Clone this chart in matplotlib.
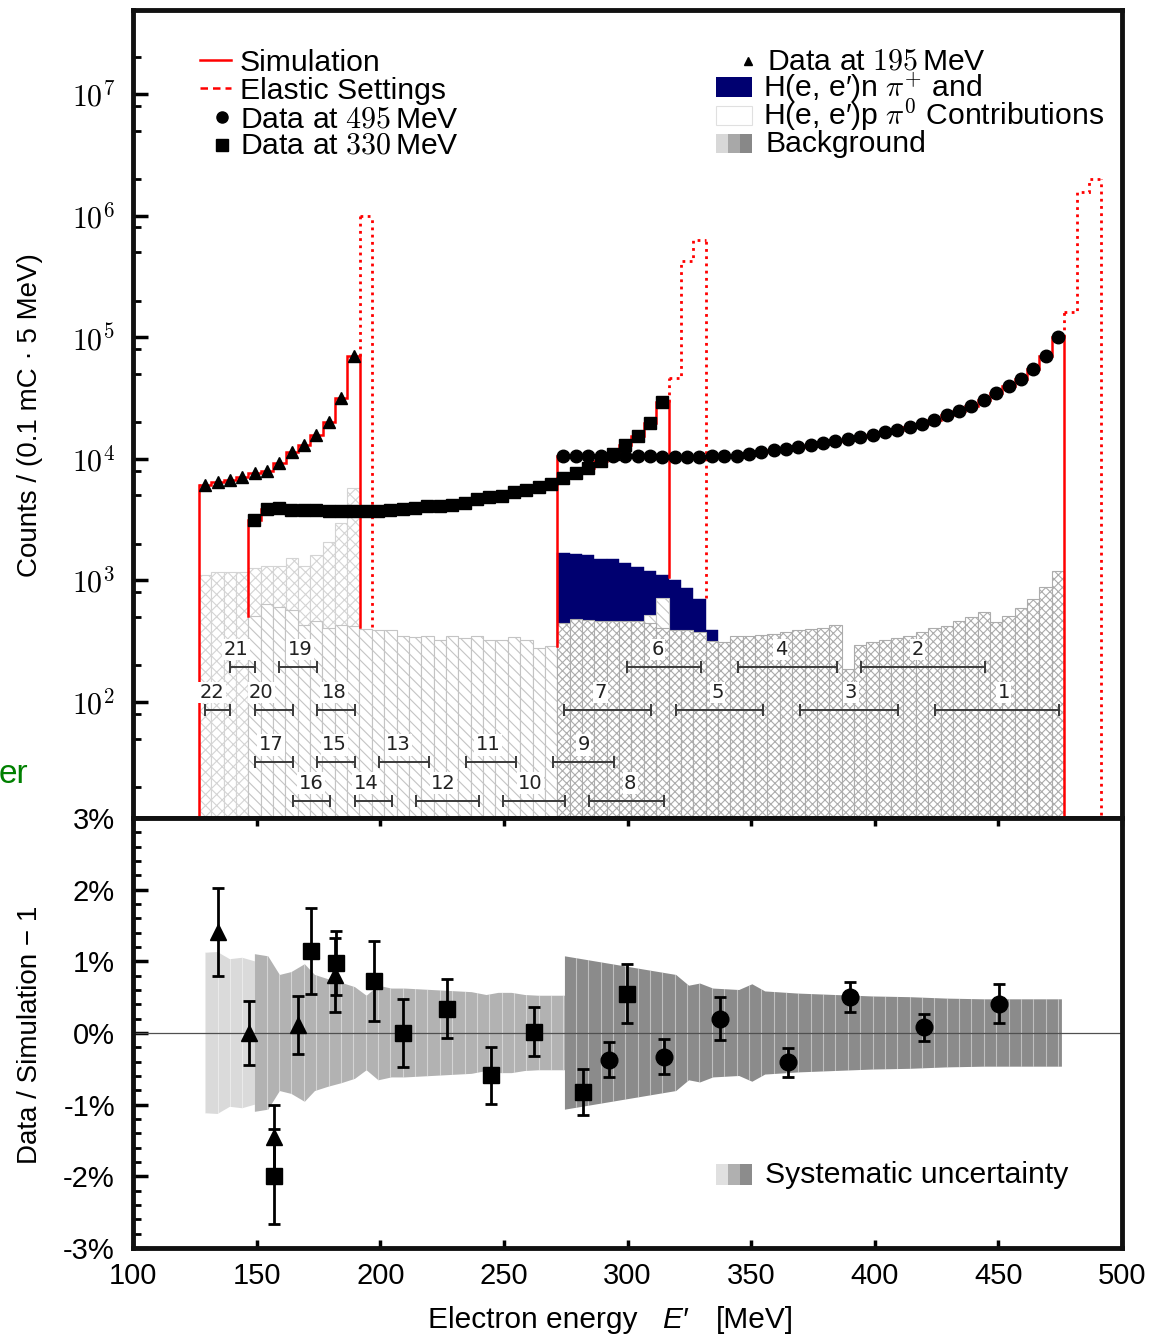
import numpy as np
import matplotlib
matplotlib.use("Agg")
import matplotlib.pyplot as plt
from matplotlib.lines import Line2D
from matplotlib.patches import Rectangle
from matplotlib.ticker import LogLocator, MultipleLocator, FuncFormatter, NullFormatter

plt.rcParams['font.family'] = ['Liberation Sans', 'DejaVu Sans']
plt.rcParams['mathtext.fontset'] = 'cm'
plt.rcParams['hatch.linewidth'] = 0.8

W, H = 1168, 1334
BIN = 5.0  # MeV per bin
LEG = 21.7  # legend font size

# ---- 195 MeV beam (triangles) ----
start_195 = 126.7
counts_195 = [6100, 6400, 6700, 7100, 7600, 8000, 9300, 11300, 13000, 15700, 19900, 31500, 70000]
bkg_195 = [1100, 1160, 1160, 1160, 1260, 1300, 1320, 1530, 1320, 1600, 2050, 2950, 5700]
elastic_195 = [1.0e6]
floors_195 = [1, 415, 415]   # sim start, sim end, elastic end

# ---- 330 MeV beam (squares) ----
start_330 = 146.6
counts_330 = [3150, 3850, 3900, 3800, 3800, 3800, 3750, 3700, 3700, 3700,
              3750, 3800, 3850, 3950, 4050, 4100, 4200, 4350, 4650, 4800,
              4950, 5350, 5550, 5900, 6250, 6950, 7700, 8400, 9500, 11000,
              13000, 15300, 19700, 29000]
bkg_330 = [505, 640, 600, 565, 430, 465, 405, 425, 420, 395,
           390, 390, 350, 340, 350, 325, 345, 335, 350, 325,
           325, 340, 325, 275, 290, 300, 310, 320, 340, 380,
           400, 430, 520, 720]
elastic_330 = [46000, 425000, 630000]
floors_330 = [505, 1070, 720]

# ---- 495 MeV beam (circles) ----
start_495 = 271.6
counts_495 = [10600, 10600, 10600, 10550, 10500, 10500, 10450, 10450, 10400, 10400,
              10400, 10400, 10450, 10500, 10600, 11000, 11450, 11700, 12000, 12400,
              13000, 13450, 13900, 14500, 15100, 15800, 16600, 17300, 18200, 19400,
              21000, 22800, 24500, 27300, 30600, 34700, 39300, 45000, 55000, 70000,
              100000]
bkg_495 = [446, 480, 470, 460, 460, 460, 460, 446, 405, 390,
           390, 375, 315, 310, 345, 350, 355, 360, 375, 390,
           400, 405, 425, 184, 295, 308, 320, 335, 350, 373,
           405, 424, 460, 500, 548, 450, 505, 590, 700, 880,
           1200]
pion_495 = [1675, 1660, 1600, 1500, 1490, 1390, 1290, 1200, 1110, 1010, 860, 700, 390]
elastic_495 = [162000, 1.55e6, 2.0e6]
floors_495 = [290, 1, 1]

# ---- spectrometer settings ----
set_num = list(range(1, 23))
set_lo = [424.3, 394.5, 369.6, 344.5, 319.7, 299.6, 274.5, 284.6, 269.7, 249.5, 234.7,
          214.4, 199.3, 189.6, 174.4, 164.6, 149.3, 174.4, 159.2, 149.3, 139.2, 129.3]
set_hi = [474.4, 444.7, 409.5, 384.6, 354.7, 329.9, 309.7, 314.6, 294.4, 274.7, 254.9,
          239.8, 219.6, 204.7, 189.6, 179.7, 164.6, 189.6, 174.3, 164.6, 149.3, 139.4]
set_row = [1, 0, 1, 0, 1, 0, 1, 3, 2, 3, 2, 3, 2, 3, 2, 3, 2, 1, 0, 1, 0, 1]
set_lx = [452.2, 417.3, 390.4, 362.0, 336.3, 312.2, 289.2, 301.1, 282.3, 260.8, 243.5,
          225.6, 207.4, 194.3, 181.5, 172.0, 155.9, 181.3, 167.6, 151.9, 141.7, 132.0]
row_level = [194, 86, 32, 15.4]

# ---- ratio panel (percent) ----
tri_E = [134.4, 146.9, 157.0, 166.9, 181.7]
tri_r = [1.41, 0.0, -1.45, 0.11, 0.81]
tri_e = [0.62, 0.44, 0.45, 0.40, 0.52]
sq_E = [157.0, 172.0, 182.0, 197.3, 209.4, 227.0, 244.6, 262.1, 282.2, 299.9]
sq_r = [-2.0, 1.15, 0.98, 0.73, 0.0, 0.34, -0.59, 0.02, -0.82, 0.55]
sq_e = [0.66, 0.60, 0.45, 0.56, 0.48, 0.41, 0.40, 0.34, 0.32, 0.41]
circ_E = [292.4, 314.9, 337.4, 364.9, 390.1, 420.1, 450.4]
circ_r = [-0.37, -0.33, 0.20, -0.41, 0.50, 0.08, 0.41]
circ_e = [0.24, 0.24, 0.30, 0.20, 0.21, 0.19, 0.27]

light_E = [129.2, 134.2, 139.2, 144.2, 149.3]
light_s = [1.12, 1.13, 1.03, 1.05, 1.00]
mid_E = [149.3, 154.7, 159.4, 164.1, 169.5, 173.6, 179.0, 184.4, 189.8, 194.5, 199.3, 204.6,
         210.0, 215.4, 220.8, 226.2, 231.6, 237.0, 243.0, 247.8, 253.2, 258.6, 264.0, 269.4, 274.8]
mid_s = [1.10, 1.07, 0.81, 0.85, 0.96, 0.81, 0.75, 0.70, 0.64, 0.52, 0.66, 0.62,
         0.62, 0.61, 0.60, 0.59, 0.58, 0.57, 0.53, 0.56, 0.56, 0.53, 0.52, 0.52, 0.52]
dark_E = [274.7, 319.7, 324.9, 329.4, 334.7, 345.2, 350.5, 355.7, 369.1, 384.1, 399.1,
          414.1, 429.1, 444.1, 475.7]
dark_s = [1.07, 0.81, 0.66, 0.69, 0.62, 0.60, 0.68, 0.58, 0.55, 0.53, 0.51,
          0.50, 0.48, 0.47, 0.47]


def centers(start, n):
    return start + BIN * (np.arange(n) + 0.5)


def fp(px, py):
    return px / W, 1 - py / H


fig = plt.figure(figsize=(W / 100, H / 100), dpi=100)
ax1 = fig.add_axes([133 / W, 1 - 818 / H, 989 / W, 808 / H])
ax2 = fig.add_axes([133 / W, 1 - 1248 / H, 989 / W, 430 / H])

c195 = centers(start_195, len(counts_195))
c330 = centers(start_330, len(counts_330))
c495 = centers(start_495, len(counts_495))

# backgrounds and pion contribution
ax1.bar(c195, bkg_195, width=BIN, bottom=1, facecolor='white', edgecolor='#d4d4d4',
        hatch='xxx', lw=0.8, zorder=1.0)
ax1.bar(c495[:len(pion_495)], pion_495, width=BIN, bottom=1, facecolor='#000070',
        edgecolor='#000070', lw=0.3, zorder=1.1)
ax1.bar(c330, bkg_330, width=BIN, bottom=1, facecolor='white', edgecolor='#c4c4c4',
        hatch='\\\\\\', lw=0.8, zorder=1.2)
ax1.bar(c495, bkg_495, width=BIN, bottom=1, facecolor='white', edgecolor='#acacac',
        hatch='xxxx', lw=0.8, zorder=1.3)


def spectrum(start, counts, elastic, floors, marker, ms):
    n = len(counts)
    edges = start + BIN * np.arange(n + 1)
    el_edges = edges[-1] + BIN * np.arange(len(elastic) + 1)
    red = dict(color='red', lw=1.8, zorder=3)
    ax1.stairs(counts, edges, baseline=None, **red)
    ax1.plot([edges[0]] * 2, [floors[0], counts[0]], **red)
    ax1.plot([edges[-1]] * 2, [floors[1], counts[-1]], **red)
    dot = dict(color='red', lw=2.0, ls=(0, (1, 1.6)), zorder=3)
    ax1.stairs(elastic, el_edges, baseline=None, **dot)
    ax1.plot([el_edges[0]] * 2, [counts[-1], elastic[0]], **dot)
    ax1.plot([el_edges[-1]] * 2, [floors[2], elastic[-1]], **dot)
    ax1.plot(edges[:-1] + BIN / 2, counts, ls='none', marker=marker, ms=ms,
             color='black', zorder=4)


spectrum(start_195, counts_195, elastic_195, floors_195, '^', 8.5)
spectrum(start_330, counts_330, elastic_330, floors_330, 's', 8)
spectrum(start_495, counts_495, elastic_495, floors_495, 'o', 9)

# spectrometer setting ranges
for num, lo, hi, row, lx in zip(set_num, set_lo, set_hi, set_row, set_lx):
    y = row_level[row]
    ax1.errorbar((lo + hi) / 2, y, xerr=(hi - lo) / 2, fmt='none', ecolor='#3a3a3a',
                 elinewidth=1.4, capsize=4.5, capthick=1.4, zorder=5)
    ax1.annotate(str(num), (lx, y), xytext=(0, 12.5), textcoords='offset points',
                 ha='center', va='center', fontsize=14, family='DejaVu Sans', color='#222222',
                 bbox=dict(fc='white', ec='none', pad=1), zorder=5)

ax1.set_yscale('log')
ax1.set_xlim(100, 500)
ax1.set_ylim(11.1, 4.9e7)
ax1.yaxis.set_major_locator(LogLocator(base=10, numticks=20))
ax1.yaxis.set_minor_locator(LogLocator(base=10, subs=(2, 5, 8), numticks=20))
ax1.yaxis.set_major_formatter(FuncFormatter(lambda v, p: r'$10^{%d}$' % round(np.log10(v))))
ax1.yaxis.set_minor_formatter(NullFormatter())
ax1.tick_params(axis='y', which='major', direction='in', length=11, width=2.5, labelsize=21.5, pad=13)
ax1.tick_params(axis='y', which='minor', direction='in', length=6, width=2)
ax1.tick_params(axis='x', which='both', bottom=False, labelbottom=False)


# ratio panel
def sys_band(x, s, color, cen):
    x = np.asarray(x)
    s = np.asarray(s)
    poly = ax2.fill_between(x, -s, s, facecolor=color, edgecolor='none', zorder=1)
    vl = ax2.vlines(cen, -3, 3, colors='white', lw=0.8, alpha=0.45, zorder=1.1)
    vl.set_clip_path(poly.get_paths()[0], ax2.transData)


sys_band(light_E, light_s, '#dadada', c195)
sys_band(mid_E, mid_s, '#b2b2b2', c330)
sys_band(dark_E, dark_s, '#8b8b8b', c495)
ax2.axhline(0, color='#505050', lw=0.9, zorder=2)

eb = dict(color='black', elinewidth=2, capsize=4, capthick=2, zorder=5)
ax2.errorbar(tri_E, tri_r, yerr=tri_e, fmt='^', ms=11, **eb)
ax2.errorbar(sq_E, sq_r, yerr=sq_e, fmt='s', ms=11, **eb)
ax2.errorbar(circ_E, circ_r, yerr=circ_e, fmt='o', ms=12, **eb)

ax2.set_xlim(100, 500)
ax2.set_ylim(-3, 3)
ax2.xaxis.set_major_locator(MultipleLocator(50))
ax2.yaxis.set_major_locator(MultipleLocator(1))
ax2.yaxis.set_minor_locator(MultipleLocator(0.2))
ax2.yaxis.set_major_formatter(FuncFormatter(lambda v, p: '%d%%' % int(round(v))))
ax2.tick_params(axis='y', which='major', direction='in', length=11, width=2.5, labelsize=21, pad=13)
ax2.tick_params(axis='y', which='minor', direction='in', length=6, width=2)
ax2.tick_params(axis='x', which='major', direction='in', top=True, length=6, width=2.5,
                labelsize=21, pad=10)

for ax in (ax1, ax2):
    for sp in ax.spines.values():
        sp.set_linewidth(3.5)
        sp.set_color('#111111')

# axis titles
fig.text(*fp(30, 415), 'Counts / (0.1 mC · 5 MeV)', rotation=90, ha='center', va='center', fontsize=20)
fig.text(*fp(30, 1035), 'Data / Simulation − 1', rotation=90, ha='center', va='center', fontsize=20)
fig.text(*fp(428, 1328), 'Electron energy', ha='left', va='baseline', fontsize=21.5)
fig.text(*fp(662, 1328), 'E′', ha='left', va='baseline', fontsize=21.5, style='italic')
fig.text(*fp(716, 1328), '[MeV]', ha='left', va='baseline', fontsize=21.5)


# legend helpers (figure pixel positions)
def fig_line(x0, x1, y, **kw):
    (a, b), (c, _) = fp(x0, y), fp(x1, y)
    fig.add_artist(Line2D([a, c], [b, b], **kw))


def fig_marker(x, y, marker, ms):
    a, b = fp(x, y)
    fig.add_artist(Line2D([a], [b], marker=marker, ms=ms, color='black', ls='none'))


def fig_box(x0, y0, x1, y1, color, ec='none'):
    a, b = fp(x0, y1)
    fig.add_artist(Rectangle((a, b), (x1 - x0) / W, (y1 - y0) / H, facecolor=color,
                             edgecolor=ec, lw=0.8, transform=fig.transFigure))


# top-left legend
fig_line(200, 231, 60, color='red', lw=1.8)
fig_line(200, 231, 88, color='red', lw=1.8, ls=(0, (3, 2)))
fig_marker(222, 117, 'o', 8)
fig_marker(222, 145, 's', 8)
fig.text(*fp(240, 71), 'Simulation', fontsize=LEG, va='baseline')
fig.text(*fp(240, 99), 'Elastic Settings', fontsize=LEG, va='baseline')
fig.text(*fp(240, 127), 'Data at $495\\,$MeV', fontsize=LEG, va='baseline')
fig.text(*fp(240, 154), 'Data at $330\\,$MeV', fontsize=LEG, va='baseline')

# top-right legend
fig_marker(748, 61, '^', 6)
fig_box(716, 77, 752, 97, '#000070')
fig_box(716, 106, 752, 125, 'white', ec='#e0e0e0')
for i, col in enumerate(['#d8d8d8', '#a8a8a8', '#888888']):
    fig_box(716 + 12 * i, 134, 728 + 12 * i, 153, col)
fig.text(*fp(767, 69), 'Data at $195\\,$MeV', fontsize=LEG, va='baseline')
fig.text(*fp(763, 97), 'H(e, e′)n $\\pi^{+}$ and', fontsize=LEG, va='baseline')
fig.text(*fp(763, 125), 'H(e, e′)p $\\pi^{0}$ Contributions', fontsize=LEG, va='baseline')
fig.text(*fp(765, 152), 'Background', fontsize=LEG, va='baseline')

# ratio legend
for i, col in enumerate(['#e0e0e0', '#b0b0b0', '#8c8c8c']):
    fig_box(716 + 12 * i, 1164, 728 + 12 * i, 1185, col)
fig.text(*fp(765, 1183), 'Systematic uncertainty', fontsize=LEG, va='baseline')

# stray label at the left edge of the image
fig.text(*fp(-1, 783), 'er', fontsize=24, color='#008000', va='baseline', ha='left')

fig.savefig('out.png', dpi=100)
